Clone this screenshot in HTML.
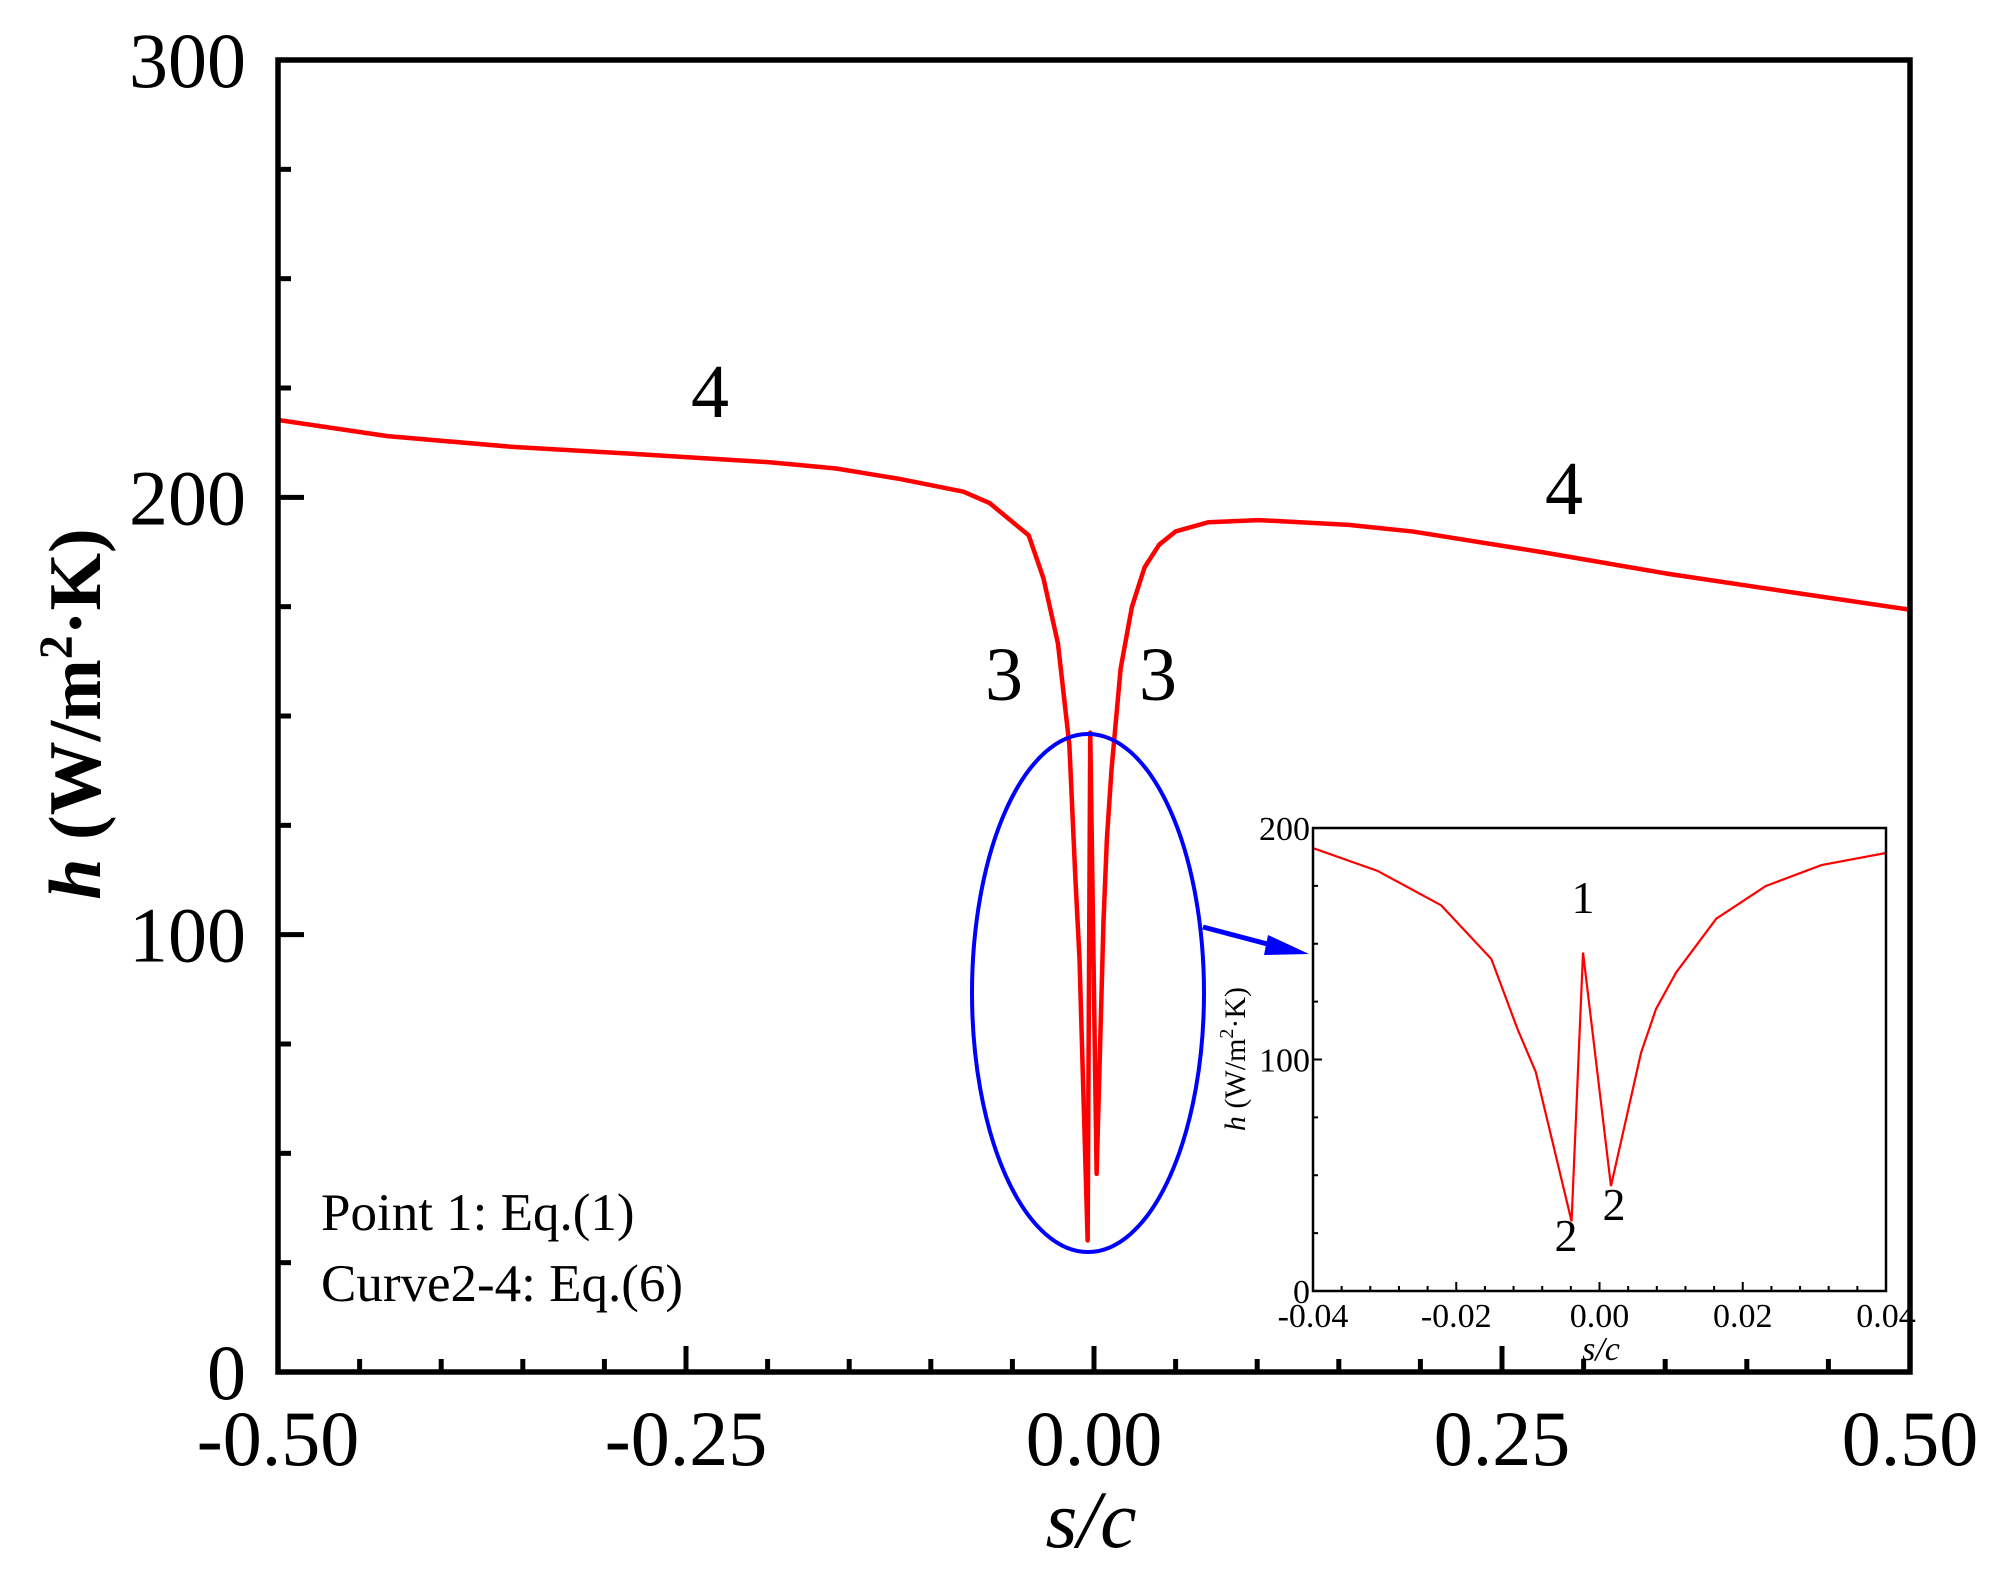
<!DOCTYPE html>
<html><head><meta charset="utf-8"><style>
html,body{margin:0;padding:0;background:#fff;}
svg{display:block;font-family:"Liberation Serif",serif;}
</style></head><body>
<svg id="chart" width="2014" height="1585" viewBox="0 0 2014 1585" xmlns="http://www.w3.org/2000/svg">
<g id="main"></g>
<g id="inset"></g>
</svg>
<script>
const xs = [-0.5,-0.433,-0.355,-0.276,-0.198,-0.158,-0.119,-0.08,-0.064,-0.04,-0.031,-0.0221,-0.0151,-0.0114,-0.0089,-0.0039,-0.0023,0.0016,0.0058,0.0079,0.0107,0.0163,0.0232,0.031,0.04,0.05,0.07,0.101,0.156,0.195,0.274,0.352,0.431,0.5];
const hs = [217.7,214,211.5,209.8,208,206.6,204.2,201.3,198.7,191.3,181.5,166.6,143.4,112.8,94.6,30.1,146.2,45.3,102.9,121.9,137.6,160.8,174.9,184,189.2,192.2,194.3,194.8,193.7,192.2,187.5,182.5,178.1,174.3];
const mainXTicks = ["-0.50","-0.25","0.00","0.25","0.50"];
const mainYTicks = ["0","100","200","300"];
const insetXTicks = ["-0.04","-0.02","0.00","0.02","0.04"];
const insetYTicks = ["0","100","200"];

const NS="http://www.w3.org/2000/svg";
function mk(parent,tag,attrs,text){const e=document.createElementNS(NS,tag);for(const k in attrs)e.setAttribute(k,attrs[k]);if(text!==undefined)e.textContent=text;parent.appendChild(e);return e;}

const M={l:278,r:1910,t:60,b:1372,x0:-0.5,x1:0.5,y0:0,y1:300};
const mx=v=>M.l+(v-M.x0)/(M.x1-M.x0)*(M.r-M.l);
const my=v=>M.b-(v-M.y0)/(M.y1-M.y0)*(M.b-M.t);
const g=document.getElementById('main');
let defs=mk(document.getElementById('chart'),'defs',{});
let cp=mk(defs,'clipPath',{id:'mclip'});mk(cp,'rect',{x:M.l,y:M.t,width:M.r-M.l,height:M.b-M.t});

let line=mk(g,'polyline',{points:xs.map((x,i)=>mx(x)+','+my(hs[i])).join(' '),fill:'none',stroke:'#ff0000','stroke-width':4.5,'stroke-linejoin':'round','clip-path':'url(#mclip)'});



for(let i=0;i<=20;i++){const v=-0.5+i*0.05;const X=mx(v);const len=(i%5===0)?26:13;
 mk(g,'line',{x1:X,y1:M.b,x2:X,y2:M.b-len,stroke:'#000','stroke-width':5});}
for(let i=0;i<=12;i++){const v=i*25;const Y=my(v);const len=(i%4===0)?26:13;
 mk(g,'line',{x1:M.l,y1:Y,x2:M.l+len,y2:Y,stroke:'#000','stroke-width':5});}
mainXTicks.forEach(t=>{const e=mk(g,'text',{x:mx(parseFloat(t)),y:1465,'font-size':78,'text-anchor':'middle'},t);
 });
mainYTicks.forEach(t=>{const e=mk(g,'text',{x:246,y:my(parseFloat(t))+27,'font-size':78,'text-anchor':'end'},t);
 });
mk(g,'rect',{x:M.l,y:M.t,width:M.r-M.l,height:M.b-M.t,fill:'none',stroke:'#000','stroke-width':5.5});

const I={l:1313,r:1886,t:828,b:1291,x0:-0.04,x1:0.04,y0:0,y1:200};
let cp2=mk(defs,'clipPath',{id:'iclip'});mk(cp2,'rect',{x:I.l,y:I.t,width:I.r-I.l,height:I.b-I.t});
const ix=v=>I.l+(v-I.x0)/(I.x1-I.x0)*(I.r-I.l);
const iy=v=>I.b-(v-I.y0)/(I.y1-I.y0)*(I.b-I.t);
const gi=document.getElementById('inset');
mk(gi,'rect',{x:I.l,y:I.t,width:I.r-I.l,height:I.b-I.t,fill:'#fff'});
let il=mk(gi,'polyline',{points:xs.map((x,i)=>ix(x)+','+iy(hs[i])).join(' '),fill:'none',stroke:'#ff0000','stroke-width':2.2,'clip-path':'url(#iclip)'});


for(let i=0;i<=20;i++){const v=-0.04+i*0.004;const X=ix(v);const len=(i%5===0)?9:5;
 mk(gi,'line',{x1:X,y1:I.b,x2:X,y2:I.b-len,stroke:'#000','stroke-width':2});}
for(let i=0;i<=8;i++){const v=i*25;const Y=iy(v);const len=(i%4===0)?9:5;
 mk(gi,'line',{x1:I.l,y1:Y,x2:I.l+len,y2:Y,stroke:'#000','stroke-width':2});}
mk(gi,'rect',{x:I.l,y:I.t,width:I.r-I.l,height:I.b-I.t,fill:'none',stroke:'#000','stroke-width':2.5});
insetXTicks.forEach(t=>{const e=mk(gi,'text',{x:ix(parseFloat(t)),y:1327,'font-size':34,'text-anchor':'middle'},t);
 });
insetYTicks.forEach(t=>{const e=mk(gi,'text',{x:I.l-3,y:iy(parseFloat(t))+12,'font-size':34,'text-anchor':'end'},t);
 });
</script>
<svg style="position:absolute;left:0;top:0" width="2014" height="1585" viewBox="0 0 2014 1585" font-family="Liberation Serif, serif">
<text x="1091" y="1547" font-size="82" font-style="italic" text-anchor="middle">s/c</text>
<text transform="translate(100,714) rotate(-90)" font-size="74" font-weight="bold" text-anchor="middle"><tspan font-style="italic">h</tspan> (W/m<tspan font-size="48" dy="-28">2</tspan><tspan dy="28">·K)</tspan></text>
<text x="710" y="417" font-size="76" text-anchor="middle">4</text>
<text x="1564" y="514" font-size="76" text-anchor="middle">4</text>
<text x="1004" y="700" font-size="76" text-anchor="middle">3</text>
<text x="1158" y="700" font-size="76" text-anchor="middle">3</text>
<text x="321" y="1230" font-size="53">Point 1: Eq.(1)</text>
<text x="321" y="1301" font-size="53">Curve2-4: Eq.(6)</text>
<ellipse cx="1088" cy="993" rx="116" ry="259" fill="none" stroke="#0000ff" stroke-width="4"/>
<line x1="1203" y1="927" x2="1275" y2="946" stroke="#0000ff" stroke-width="5"/>
<polygon points="1309,954 1268,935 1264,955" fill="#0000ff"/>
<text transform="translate(1245,1059) rotate(-90)" font-size="30" text-anchor="middle"><tspan font-style="italic">h</tspan> (W/m<tspan font-size="20" dy="-12">2</tspan><tspan dy="12">·K)</tspan></text>
<text x="1601" y="1360" font-size="34" font-style="italic" text-anchor="middle">s/c</text>
<text x="1583" y="913" font-size="46" text-anchor="middle">1</text>
<text x="1566" y="1251" font-size="46" text-anchor="middle">2</text>
<text x="1614" y="1220" font-size="46" text-anchor="middle">2</text>
</svg>
</body></html>
